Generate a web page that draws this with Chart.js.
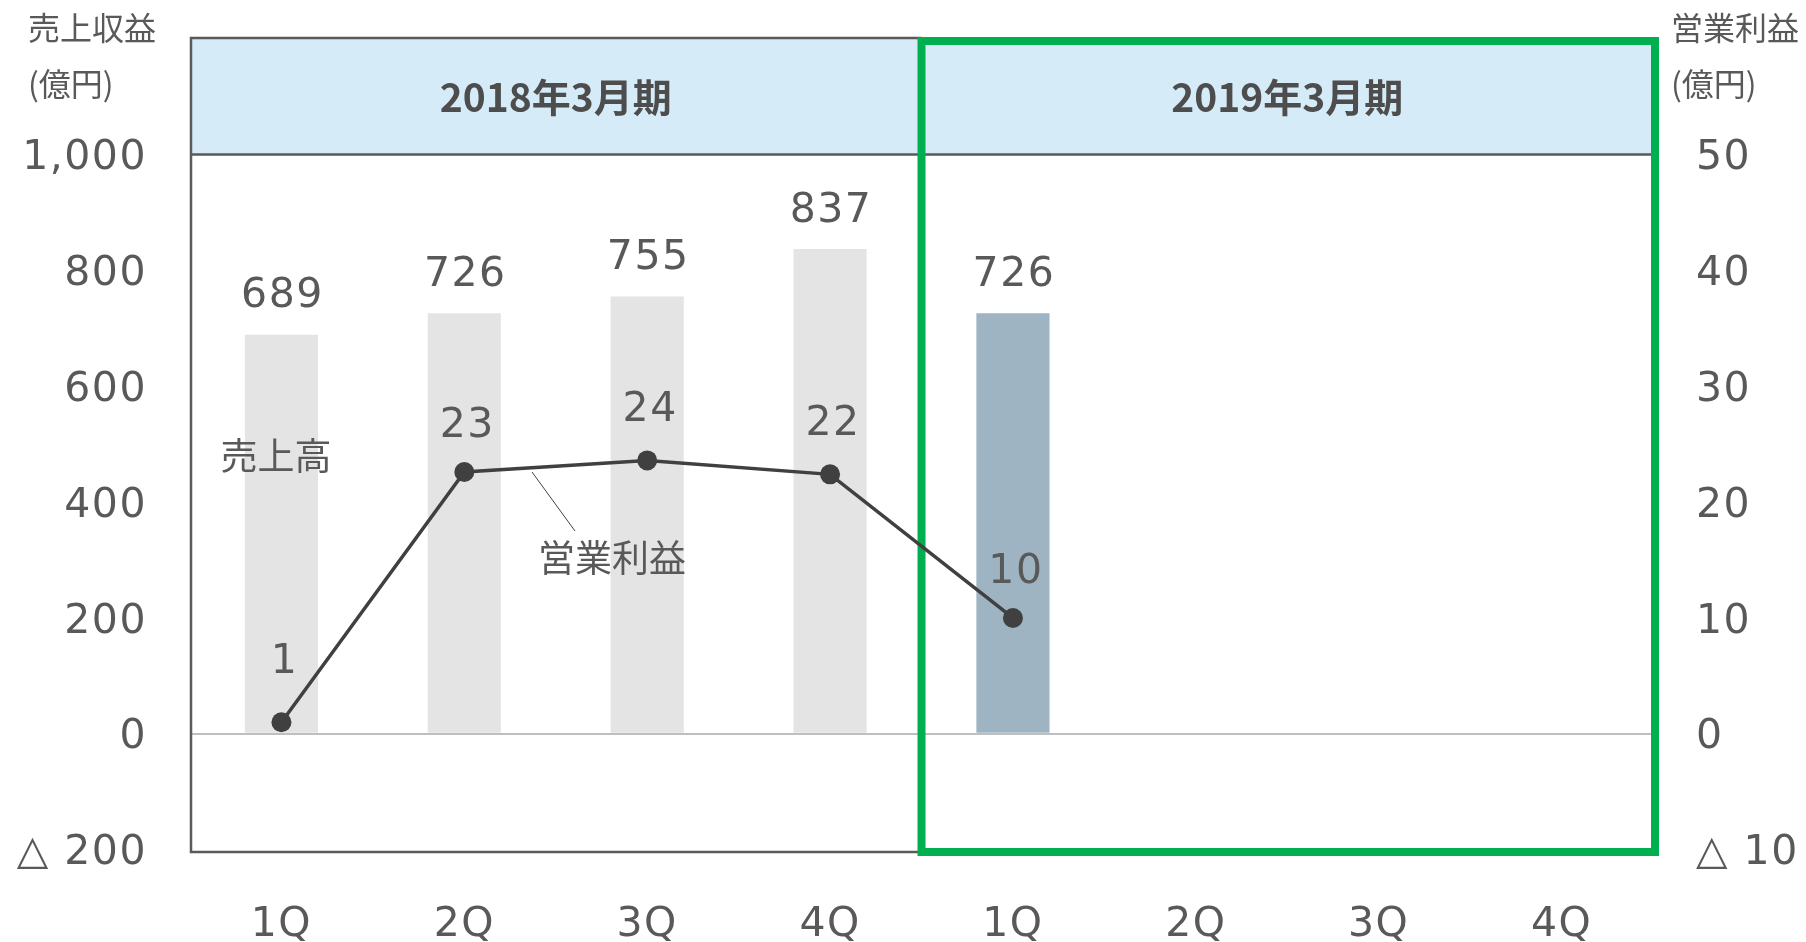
<!DOCTYPE html>
<html>
<head>
<meta charset="utf-8">
<script src="https://cdn.jsdelivr.net/npm/chart.js@4.4.1/dist/chart.umd.min.js"></script>
<style>
body { margin: 0; background: #fff; }
#wrap { position: relative; width: 1806px; height: 942px; }
</style>
</head>
<body>
<div id="wrap"><canvas id="chart"></canvas></div>
<script>
var quarters = ['1Q', '2Q', '3Q', '4Q', '1Q', '2Q', '3Q', '4Q'];
var periods = ['2018年3月期', '2019年3月期'];
var sales = [689, 726, 755, 837, 726, null, null, null];
var profit = [1, 22.6, 23.6, 22.4, 10, null, null, null];
var profit_labels = ['1', '23', '24', '22', '10'];
var sales_ticks = [-200, 0, 200, 400, 600, 800, 1000];
var profit_ticks = [-10, 0, 10, 20, 30, 40, 50];
var bar_colors = ['#e4e4e4', '#e4e4e4', '#e4e4e4', '#e4e4e4', '#9fb4c2', '#9fb4c2', '#9fb4c2', '#9fb4c2'];

var TEXT = '#595959';
var CJK = '"Noto Sans CJK JP", "Noto Sans", sans-serif';
var LATIN = '"DejaVu Sans", Verdana, sans-serif';
// how far above each point its label sits (px)
var profit_label_gap = [60, 46, 50, 50, 46];

Chart.defaults.font.family = LATIN;
Chart.defaults.color = TEXT;

function fmt_tick(v) {
    if (v < 0) return '△ ' + Math.abs(v).toLocaleString('en-US');
    return v.toLocaleString('en-US');
}

function no_pad(s) {
    s.paddingTop = 0;
    s.paddingBottom = 0;
    s.paddingLeft = 0;
    s.paddingRight = 0;
}

// header band, frame and green box for the current period
var frame_plugin = {
    id: 'frame',
    beforeDraw: function (chart) {
        chart.ctx.letterSpacing = '1.5px';
    },
    beforeDatasetsDraw: function (chart) {
        var ctx = chart.ctx, a = chart.chartArea;
        var x = chart.scales.x, y = chart.scales.y;
        var y1000 = y.getPixelForValue(1000);
        var split = (x.getPixelForValue(3) + x.getPixelForValue(4)) / 2;

        ctx.save();
        ctx.letterSpacing = '0px';
        ctx.fillStyle = '#d5ebf8';
        ctx.fillRect(a.left, a.top, a.right - a.left, y1000 - a.top);

        ctx.strokeStyle = '#5a5a5a';
        ctx.lineWidth = 2.5;
        ctx.beginPath();
        ctx.moveTo(split, a.top + 1);
        ctx.lineTo(a.left + 1, a.top + 1);
        ctx.lineTo(a.left + 1, a.bottom);
        ctx.lineTo(split, a.bottom);
        ctx.moveTo(a.left, y1000);
        ctx.lineTo(a.right, y1000);
        ctx.stroke();

        ctx.strokeStyle = '#00b050';
        ctx.lineWidth = 8;
        ctx.strokeRect(split, a.top + 4, a.right - split + 2, a.bottom - a.top - 4);

        ctx.fillStyle = '#4d4d4d';
        ctx.font = 'bold 39px ' + CJK;
        ctx.textAlign = 'center';
        ctx.textBaseline = 'middle';
        ctx.fillText(periods[0], x.getPixelForValue(1.5), (a.top + y1000) / 2 + 1);
        ctx.fillText(periods[1], x.getPixelForValue(5.5), (a.top + y1000) / 2 + 1);
        ctx.restore();
    },
    afterDatasetsDraw: function (chart) {
        var ctx = chart.ctx;
        ctx.save();
        ctx.fillStyle = TEXT;
        ctx.textAlign = 'center';
        ctx.textBaseline = 'middle';
        ctx.letterSpacing = '1.5px';
        ctx.font = '41px ' + LATIN;

        chart.getDatasetMeta(1).data.forEach(function (bar, i) {
            if (sales[i] === null) return;
            ctx.fillText(String(sales[i]), bar.x + 1, bar.y - 38);
        });
        chart.getDatasetMeta(0).data.forEach(function (pt, i) {
            if (profit[i] === null) return;
            ctx.fillText(profit_labels[i], pt.x + 3, pt.y - profit_label_gap[i]);
        });

        // series names
        ctx.letterSpacing = '0px';
        ctx.font = '37px ' + CJK;
        ctx.fillText('売上高', 276, 456);
        ctx.fillText('営業利益', 612, 558);
        ctx.strokeStyle = '#404040';
        ctx.lineWidth = 1;
        ctx.beginPath();
        ctx.moveTo(532, 472);
        ctx.lineTo(575, 531);
        ctx.stroke();

        // axis titles
        ctx.textAlign = 'left';
        ctx.font = '32px ' + CJK;
        ctx.fillText('売上収益', 28, 28);
        ctx.fillText('(億円)', 28, 84);
        ctx.fillText('営業利益', 1671, 28);
        ctx.fillText('(億円)', 1671, 84);
        ctx.restore();
    }
};

new Chart(document.getElementById('chart'), {
    data: {
        labels: quarters,
        datasets: [{
            type: 'line',
            data: profit,
            yAxisID: 'y1',
            borderColor: '#404040',
            borderWidth: 3.5,
            pointRadius: 10,
            pointBackgroundColor: '#404040',
            pointBorderWidth: 0,
            order: 0
        }, {
            type: 'bar',
            data: sales,
            yAxisID: 'y',
            backgroundColor: bar_colors,
            barPercentage: 0.4,
            categoryPercentage: 1,
            order: 1
        }]
    },
    options: {
        responsive: true,
        maintainAspectRatio: false,
        animation: false,
        layout: { padding: { top: 37, left: 0, right: 0, bottom: 0 } },
        plugins: { legend: { display: false }, tooltip: { enabled: false } },
        scales: {
            x: {
                grid: { display: false },
                border: { display: false },
                ticks: { padding: 41, font: { size: 41 }, color: TEXT, maxRotation: 0 },
                afterFit: function (s) { s.height = 90; no_pad(s); }
            },
            y: {
                position: 'left',
                min: -204,
                max: 1203,
                border: { display: false },
                grid: {
                    drawTicks: false,
                    lineWidth: 2,
                    color: function (c) { return c.tick && c.tick.value === 0 ? '#bfbfbf' : 'rgba(0,0,0,0)'; }
                },
                ticks: {
                    padding: 43,
                    labelOffset: 4,
                    font: { size: 41 },
                    color: TEXT,
                    callback: fmt_tick
                },
                afterBuildTicks: function (s) {
                    s.ticks = sales_ticks.map(function (v) { return { value: v }; });
                },
                afterFit: function (s) { s.width = 190; no_pad(s); }
            },
            y1: {
                position: 'right',
                min: -10.2,
                max: 60.15,
                border: { display: false },
                grid: { display: false, drawTicks: false },
                ticks: {
                    padding: 43,
                    labelOffset: 4,
                    font: { size: 41 },
                    color: TEXT,
                    callback: fmt_tick
                },
                afterBuildTicks: function (s) {
                    s.ticks = profit_ticks.map(function (v) { return { value: v }; });
                },
                afterFit: function (s) { s.width = 153; no_pad(s); }
            }
        }
    },
    plugins: [frame_plugin]
});
</script>
</body>
</html>
